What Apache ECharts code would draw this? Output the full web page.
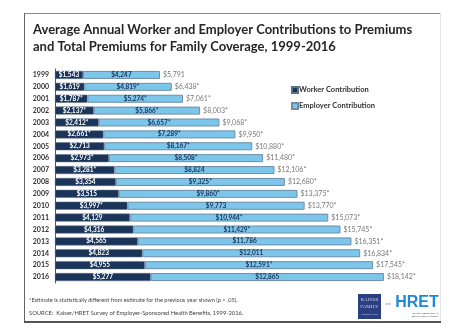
<!DOCTYPE html>
<html><head><meta charset="utf-8">
<script src="https://cdn.jsdelivr.net/npm/echarts@6/dist/echarts.min.js"></script>
<style>html,body{margin:0;padding:0;background:#fff}#c{width:466px;height:333px}</style>
</head><body><div id="c"></div>
<script>
const years = ['1999','2000','2001','2002','2003','2004','2005','2006','2007','2008','2009','2010','2011','2012','2013','2014','2015','2016'];
const worker = [1543,1619,1787,2137,2412,2661,2713,2973,3281,3354,3515,3997,4129,4316,4565,4823,4955,5277];
const workerLabels = ['$1,543','$1,619','$1,787*','$2,137*','$2,412*','$2,661*','$2,713','$2,973*','$3,281*','$3,354','$3,515','$3,997*','$4,129','$4,316','$4,565','$4,823','$4,955','$5,277'];
const employer = [4247,4819,5274,5866,6657,7289,8167,8508,8824,9325,9860,9773,10944,11429,11786,12011,12591,12865];
const employerLabels = ['$4,247','$4,819*','$5,274*','$5,866*','$6,657*','$7,289*','$8,167*','$8,508*','$8,824','$9,325*','$9,860*','$9,773','$10,944*','$11,429*','$11,786','$12,011','$12,591*','$12,865'];
const total = [5791,6438,7061,8003,9068,9950,10880,11480,12106,12680,13375,13770,15073,15745,16351,16834,17545,18142];
const totalLabels = ['$5,791','$6,438*','$7,061*','$8,003*','$9,068*','$9,950*','$10,880*','$11,480*','$12,106*','$12,680*','$13,375*','$13,770*','$15,073*','$15,745*','$16,351*','$16,834*','$17,545*','$18,142*'];

const FONT = 'Lato';
const chart = echarts.init(document.getElementById('c'), null, {renderer:'canvas'});
chart.setOption({
  animation:false,
  textStyle:{fontFamily:FONT},
  title:{
    text:'Average Annual Worker and Employer Contributions to Premiums\nand Total Premiums for Family Coverage, 1999-2016',
    left:28, top:16,
    textStyle:{fontFamily:FONT,fontSize:13,fontWeight:'bold',color:'#262626',lineHeight:17}
  },
  legend:{
    orient:'vertical', left:286, top:81, itemWidth:6, itemHeight:6, itemGap:8,
    icon:'rect',
    textStyle:{fontFamily:FONT,fontSize:7.5,fontWeight:'bold',color:'#333',padding:[0,0,0,-4]},
    data:['Worker Contribution','Employer Contribution']
  },
  grid:{left:55, right:48.4, top:69, bottom:50, containLabel:false},
  xAxis:{type:'value', min:0, max:20000, show:false},
  yAxis:{type:'category', data:years, inverse:true,
    axisLine:{show:true,lineStyle:{color:'#555',width:1}},
    axisTick:{show:false},
    axisLabel:{fontFamily:FONT,fontSize:7,fontWeight:'bold',color:'#333',margin:6}
  },
  series:[
    {name:'Worker Contribution', type:'bar', stack:'p', data:worker, barWidth:8,
     itemStyle:{color:'#1b355a',borderColor:'#5f7080',borderWidth:0.5},
     label:{show:true,position:'inside',fontSize:6.5,fontWeight:'bold',color:'#fff',
       formatter:p=>workerLabels[p.dataIndex]}},
    {name:'Employer Contribution', type:'bar', stack:'p', data:employer, barWidth:8,
     itemStyle:{color:'#7cc6ec',borderColor:'#6e8ea6',borderWidth:1},
     label:{show:true,position:'inside',fontSize:6.5,fontWeight:'bold',color:'#1b355a',
       formatter:p=>employerLabels[p.dataIndex]}},
    {name:'Total', type:'scatter', data:total, symbolSize:0,
     label:{show:true,position:'right',distance:3,fontSize:7,color:'#555',
       formatter:p=>totalLabels[p.dataIndex]}}
  ],
  graphic:[
    {type:'line',shape:{x1:24,y1:13.5,x2:440,y2:13.5},style:{stroke:'#888',lineWidth:1}},
    {type:'line',shape:{x1:24.5,y1:13,x2:24.5,y2:322},style:{stroke:'#666',lineWidth:1}},
    {type:'line',shape:{x1:440.5,y1:13,x2:440.5,y2:322},style:{stroke:'#e4e4e4',lineWidth:1}},
    {type:'line',shape:{x1:24,y1:322,x2:441,y2:322},style:{stroke:'#555',lineWidth:2}},
    {type:'text',left:29,top:297,style:{text:'*Estimate is statistically different from estimate for the previous year shown (p < .05).',font:'5.6px '+FONT,fill:'#444'}},
    {type:'text',left:29,top:310,style:{text:'SOURCE:  Kaiser/HRET Survey of Employer-Sponsored Health Benefits, 1999-2016.',font:'5.8px '+FONT,fill:'#444'}},
    {type:'rect',shape:{x:358,y:294,width:23,height:25},style:{fill:'#2b3f80'}},
    {type:'text',x:369.5,y:300,style:{text:'KAISER',font:'5px serif',fill:'#c9d2ee',align:'center',verticalAlign:'middle'}},
    {type:'text',x:369.5,y:307,style:{text:'FAMILY',font:'5px serif',fill:'#c9d2ee',align:'center',verticalAlign:'middle'}},
    {type:'text',x:369.5,y:314,style:{text:'FOUNDATION',font:'2.5px sans-serif',fill:'#c9d2ee',align:'center',verticalAlign:'middle'}},
    {type:'text',x:388,y:304,style:{text:'and',font:'3px sans-serif',fill:'#888',align:'center',verticalAlign:'middle'}},
    {type:'text',x:417,y:303,style:{text:'HRET',font:'bold 16px "Liberation Sans"',fill:'#1e88d6',align:'center',verticalAlign:'middle'}},
    {type:'text',x:425,y:313,style:{text:'HEALTH RESEARCH &',font:'2.5px sans-serif',fill:'#444',align:'center',verticalAlign:'middle'}},
    {type:'text',x:425,y:316,style:{text:'EDUCATIONAL TRUST',font:'2.5px sans-serif',fill:'#444',align:'center',verticalAlign:'middle'}}
  ]
});
</script></body></html>
